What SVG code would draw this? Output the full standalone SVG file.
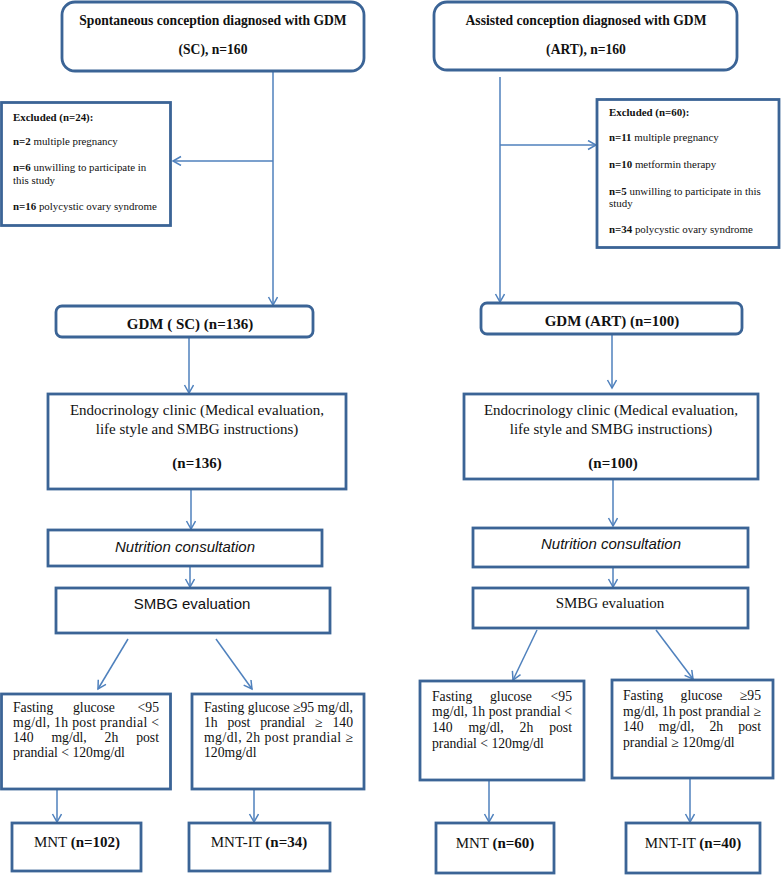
<svg xmlns="http://www.w3.org/2000/svg" width="781" height="875" viewBox="0 0 781 875">
<defs>
<marker id="ah" markerUnits="userSpaceOnUse" markerWidth="12" markerHeight="12" refX="9" refY="5" orient="auto">
<path d="M1,0.5 L9,5 L1,9.5" fill="none" stroke="#4f81bd" stroke-width="1.5"/>
</marker>
<style>
.box{fill:#fff;stroke:#3b6496;stroke-width:2.8}
.c{fill:none;stroke:#4f81bd;stroke-width:1.5;marker-end:url(#ah)}
text{font-family:"Liberation Serif","Times New Roman",serif;fill:#111}
.b{font-weight:bold}
.t{font-size:13.6px;font-weight:bold;text-anchor:middle}
.g{font-size:15px;font-weight:bold;text-anchor:middle}
.ex{font-size:10.9px}
.m{font-size:15px;text-anchor:middle}
.cr{font-size:13.7px}
.e{text-anchor:end}
.sans{font-family:"Liberation Sans",Arial,sans-serif}
</style>
</defs>
<rect width="781" height="875" fill="#fff"/>

<g id="connectors">
<line class="c" x1="273" y1="72" x2="273" y2="305"/>
<line class="c" x1="273" y1="161" x2="173" y2="161"/>
<line class="c" x1="189" y1="338" x2="189" y2="393"/>
<line class="c" x1="191" y1="490" x2="191" y2="529"/>
<line class="c" x1="190" y1="567" x2="190" y2="587"/>
<line class="c" x1="128" y1="639" x2="98" y2="689"/>
<line class="c" x1="216" y1="639" x2="252" y2="689"/>
<line class="c" x1="57" y1="790" x2="57" y2="822"/>
<line class="c" x1="254" y1="790" x2="254" y2="822"/>

<line class="c" x1="500" y1="77" x2="500" y2="302"/>
<line class="c" x1="500" y1="145" x2="596" y2="145"/>
<line class="c" x1="612" y1="335" x2="612" y2="388"/>
<line class="c" x1="613" y1="480" x2="613" y2="526"/>
<line class="c" x1="613" y1="568" x2="613" y2="587"/>
<line class="c" x1="537" y1="630" x2="513" y2="680"/>
<line class="c" x1="656" y1="630" x2="693" y2="679"/>
<line class="c" x1="489" y1="781" x2="489" y2="822"/>
<line class="c" x1="690" y1="779" x2="690" y2="822"/>
</g>

<g id="sc-top">
<rect class="box" x="62" y="2" width="302" height="69" rx="13"/>
<text class="t" x="213" y="25">Spontaneous conception diagnosed with GDM</text>
<text class="t" x="213" y="54">(SC), n=160</text>
</g>

<g id="sc-excluded">
<rect class="box" x="1.5" y="102.5" width="169" height="123"/>
<text class="ex b" x="13" y="121">Excluded (n=24):</text>
<text class="ex" x="13" y="145"><tspan class="b">n=2</tspan> multiple pregnancy</text>
<text class="ex" x="13" y="171"><tspan class="b">n=6</tspan> unwilling to participate in</text>
<text class="ex" x="13" y="184">this study</text>
<text class="ex" x="13" y="210"><tspan class="b">n=16</tspan> polycystic ovary syndrome</text>
</g>

<g id="sc-gdm">
<rect class="box" x="56" y="306" width="257" height="31" rx="6"/>
<text class="g" x="190" y="329">GDM ( SC) (n=136)</text>
</g>

<g id="sc-endo">
<rect class="box" x="48" y="394" width="298" height="95"/>
<text class="m" x="197" y="415">Endocrinology clinic (Medical evaluation,</text>
<text class="m" x="197" y="434">life style and SMBG instructions)</text>
<text class="m b" x="197" y="468">(n=136)</text>
</g>

<g id="sc-nutrition">
<rect class="box" x="48" y="530" width="274" height="36"/>
<text class="m sans" x="185" y="552" font-style="italic" font-size="12.8">Nutrition consultation</text>
</g>

<g id="sc-smbg">
<rect class="box" x="56" y="588" width="274" height="45"/>
<text class="m sans" x="192" y="609" font-size="12.2">SMBG evaluation</text>
</g>

<g id="sc-crit-low">
<rect class="box" x="1.5" y="694" width="169" height="95"/>
<text class="cr" x="13" y="712">Fasting</text>
<text class="cr" x="73" y="712">glucose</text>
<text class="cr e" x="159" y="712">&lt;95</text>
<text class="cr" x="13" y="727" textLength="146" lengthAdjust="spacing">mg/dl, 1h post prandial &lt;</text>
<text class="cr" x="13" y="742">140</text>
<text class="cr" x="51.4" y="742">mg/dl,</text>
<text class="cr" x="104.6" y="742">2h</text>
<text class="cr e" x="159" y="742">post</text>
<text class="cr" x="13" y="757">prandial &lt; 120mg/dl</text>
</g>

<g id="sc-crit-high">
<rect class="box" x="192" y="694" width="172" height="95"/>
<text class="cr" x="204" y="712">Fasting glucose ≥95 mg/dl,</text>
<text class="cr" x="204" y="727">1h</text>
<text class="cr" x="227.5" y="727">post</text>
<text class="cr" x="260.2" y="727">prandial</text>
<text class="cr" x="315" y="727">≥</text>
<text class="cr e" x="353" y="727">140</text>
<text class="cr" x="204" y="742" textLength="149" lengthAdjust="spacing">mg/dl, 2h post prandial ≥</text>
<text class="cr" x="204" y="757">120mg/dl</text>
</g>

<g id="sc-mnt">
<rect class="box" x="12" y="823" width="129" height="48"/>
<text class="m" x="77" y="847">MNT <tspan class="b">(n=102)</tspan></text>
</g>

<g id="sc-mntit">
<rect class="box" x="189" y="823" width="141" height="48"/>
<text class="m" x="259" y="847">MNT-IT <tspan class="b">(n=34)</tspan></text>
</g>

<g id="art-top">
<rect class="box" x="434" y="2" width="303" height="68" rx="13"/>
<text class="t" x="586" y="25">Assisted conception diagnosed with GDM</text>
<text class="t" x="586" y="54">(ART), n=160</text>
</g>

<g id="art-excluded">
<rect class="box" x="597" y="99.5" width="182" height="148"/>
<text class="ex b" x="609" y="116">Excluded (n=60):</text>
<text class="ex" x="609" y="141"><tspan class="b">n=11</tspan> multiple pregnancy</text>
<text class="ex" x="609" y="168"><tspan class="b">n=10</tspan> metformin therapy</text>
<text class="ex" x="609" y="195"><tspan class="b">n=5</tspan> unwilling to participate in this</text>
<text class="ex" x="609" y="207">study</text>
<text class="ex" x="609" y="233"><tspan class="b">n=34</tspan> polycystic ovary syndrome</text>
</g>

<g id="art-gdm">
<rect class="box" x="481" y="303" width="261" height="31" rx="6"/>
<text class="g" x="612" y="326">GDM (ART) (n=100)</text>
</g>

<g id="art-endo">
<rect class="box" x="464" y="394" width="294" height="85"/>
<text class="m" x="611" y="415">Endocrinology clinic (Medical evaluation,</text>
<text class="m" x="611" y="434">life style and SMBG instructions)</text>
<text class="m b" x="613" y="468">(n=100)</text>
</g>

<g id="art-nutrition">
<rect class="box" x="473" y="528" width="275" height="39"/>
<text class="m sans" x="611" y="549" font-style="italic" font-size="12.8">Nutrition consultation</text>
</g>

<g id="art-smbg">
<rect class="box" x="473" y="588" width="275" height="40"/>
<text class="m" x="610" y="608" font-size="12.7">SMBG evaluation</text>
</g>

<g id="art-crit-low">
<rect class="box" x="420" y="681" width="164" height="99"/>
<text class="cr" x="432" y="701">Fasting</text>
<text class="cr" x="490" y="701">glucose</text>
<text class="cr e" x="572" y="701">&lt;95</text>
<text class="cr" x="432" y="716" textLength="140" lengthAdjust="spacing">mg/dl, 1h post prandial &lt;</text>
<text class="cr" x="432" y="732">140</text>
<text class="cr" x="468.4" y="732">mg/dl,</text>
<text class="cr" x="519.6" y="732">2h</text>
<text class="cr e" x="572" y="732">post</text>
<text class="cr" x="432" y="748">prandial &lt; 120mg/dl</text>
</g>

<g id="art-crit-high">
<rect class="box" x="612" y="680" width="161" height="98"/>
<text class="cr" x="623" y="700">Fasting</text>
<text class="cr" x="680.6" y="700">glucose</text>
<text class="cr e" x="761" y="700">≥95</text>
<text class="cr" x="623" y="716" textLength="138" lengthAdjust="spacing">mg/dl, 1h post prandial ≥</text>
<text class="cr" x="623" y="731">140</text>
<text class="cr" x="658.8" y="731">mg/dl,</text>
<text class="cr" x="709.4" y="731">2h</text>
<text class="cr e" x="761" y="731">post</text>
<text class="cr" x="623" y="747">prandial ≥ 120mg/dl</text>
</g>

<g id="art-mnt">
<rect class="box" x="436" y="823" width="118" height="50"/>
<text class="m" x="495" y="848">MNT <tspan class="b">(n=60)</tspan></text>
</g>

<g id="art-mntit">
<rect class="box" x="626" y="823" width="134" height="50"/>
<text class="m" x="693" y="848">MNT-IT <tspan class="b">(n=40)</tspan></text>
</g>
</svg>
